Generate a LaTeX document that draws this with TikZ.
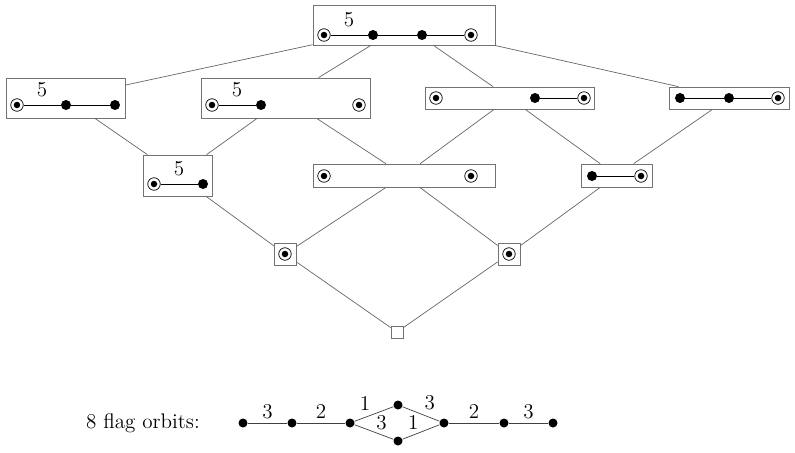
\documentclass[tikz,border=0pt]{standalone}
\usepackage{amsmath, amssymb}
\usepackage{xcolor}
\usepackage{tikz}
\usetikzlibrary{calc, positioning}

\begin{document}
\begin{tikzpicture}[x=0.02cm, y=-0.02cm, font=\large,
    face/.style={draw=black!55, inner sep=0pt},
    link/.style={black!60},
    dot/.style={circle, fill=black, inner sep=0pt, minimum size=0.2cm},
    ring/.style={circle, draw=black, inner sep=0pt, minimum size=0.25cm,
        path picture={\fill[black] (path picture bounding box.center) circle (0.065cm);}}]
    \useasboundingbox (0,0) rectangle (795,453);

    % 1. Các mặt (hình chữ nhật)
    \node[face, minimum width=3.64cm, minimum height=0.8cm] (top) at (404,25) {};
    \node[face, minimum width=2.38cm, minimum height=0.8cm] (fa) at (65.5,98) {};
    \node[face, minimum width=3.38cm, minimum height=0.8cm] (fb) at (285.5,98) {};
    \node[face, minimum width=3.38cm, minimum height=0.44cm] (fc) at (509.5,98) {};
    \node[face, minimum width=2.4cm, minimum height=0.44cm] (fd) at (729,98) {};
    \node[face, minimum width=1.38cm, minimum height=0.82cm] (ea) at (177.5,175.5) {};
    \node[face, minimum width=3.64cm, minimum height=0.46cm] (eb) at (404,175.5) {};
    \node[face, minimum width=1.42cm, minimum height=0.46cm] (ec) at (616.5,175.5) {};
    \node[face, minimum size=0.44cm] (va) at (285,254) {};
    \node[face, minimum size=0.44cm] (vb) at (509,254) {};
    \node[face, minimum size=0.24cm] (bot) at (397,332) {};

    % 2. Các cạnh của biểu đồ Hasse
    \foreach \a/\b in {top/fa, top/fb, top/fc, top/fd, fa/ea, fb/ea, fb/eb, fc/eb, fc/ec,
        fd/ec, ea/va, eb/va, eb/vb, ec/vb, va/bot, vb/bot}
        \draw[link] (\a) -- (\b);

    % 3. Sơ đồ bên trong mỗi hình chữ nhật
    % Hình trên cùng
    \node[ring] (t1) at (324,35) {};
    \node[dot] (t2) at (373,35) {};
    \node[dot] (t3) at (422,35) {};
    \node[ring] (t4) at (471,35) {};
    \draw (t1) -- node[above=1pt] {5} (t2) -- (t3) -- (t4);

    % Hàng thứ hai
    \node[ring] (a1) at (17,105) {};
    \node[dot] (a2) at (66,105) {};
    \node[dot] (a3) at (115,105) {};
    \draw (a1) -- node[above=1pt] {5} (a2) -- (a3);

    \node[ring] (b1) at (212,105) {};
    \node[dot] (b2) at (261,105) {};
    \node[ring] (b3) at (359,105) {};
    \draw (b1) -- node[above=1pt] {5} (b2);

    \node[ring] (c1) at (436,98) {};
    \node[dot] (c2) at (535,98) {};
    \node[ring] (c3) at (584,98) {};
    \draw (c2) -- (c3);

    \node[dot] (d1) at (680,98) {};
    \node[dot] (d2) at (729,98) {};
    \node[ring] (d3) at (778,98) {};
    \draw (d1) -- (d2) -- (d3);

    % Hàng thứ ba
    \node[ring] (e1) at (154,184) {};
    \node[dot] (e2) at (203,184) {};
    \draw (e1) -- node[above=1pt] {5} (e2);

    \node[ring] (g1) at (324,176) {};
    \node[ring] (g2) at (471,176) {};

    \node[dot] (h1) at (592,176) {};
    \node[ring] (h2) at (641,176) {};
    \draw (h1) -- (h2);

    % Đỉnh
    \node[ring] (v1) at (285,254) {};
    \node[ring] (v2) at (509,254) {};

    % 4. Quỹ đạo cờ
    \node (lbl) at (143,423) {8 flag orbits:};
    \node[dot, minimum size=0.18cm] (o1) at (243,423) {};
    \node[dot, minimum size=0.18cm] (o2) at (292,423) {};
    \node[dot, minimum size=0.18cm] (o3) at (350,423) {};
    \node[dot, minimum size=0.18cm] (o4) at (398,405) {};
    \node[dot, minimum size=0.18cm] (o5) at (398,441) {};
    \node[dot, minimum size=0.18cm] (o6) at (444,423) {};
    \node[dot, minimum size=0.18cm] (o7) at (504,423) {};
    \node[dot, minimum size=0.18cm] (o8) at (553,423) {};
    \tikzset{every node/.append style={text=black}}
    \draw[black!75] (o1) -- node[above=-1pt] {3} (o2) -- node[above=-1pt] {2} (o3);
    \draw[black!75] (o3) -- node[above left=-2pt] {1} (o4) -- node[above right=-2pt] {3} (o6);
    \draw[black!75] (o3) -- node[above right=-3pt] {3} (o5) -- node[above left=-3pt] {1} (o6);
    \draw[black!75] (o6) -- node[above=-1pt] {2} (o7) -- node[above=-1pt] {3} (o8);

\end{tikzpicture}
\end{document}
